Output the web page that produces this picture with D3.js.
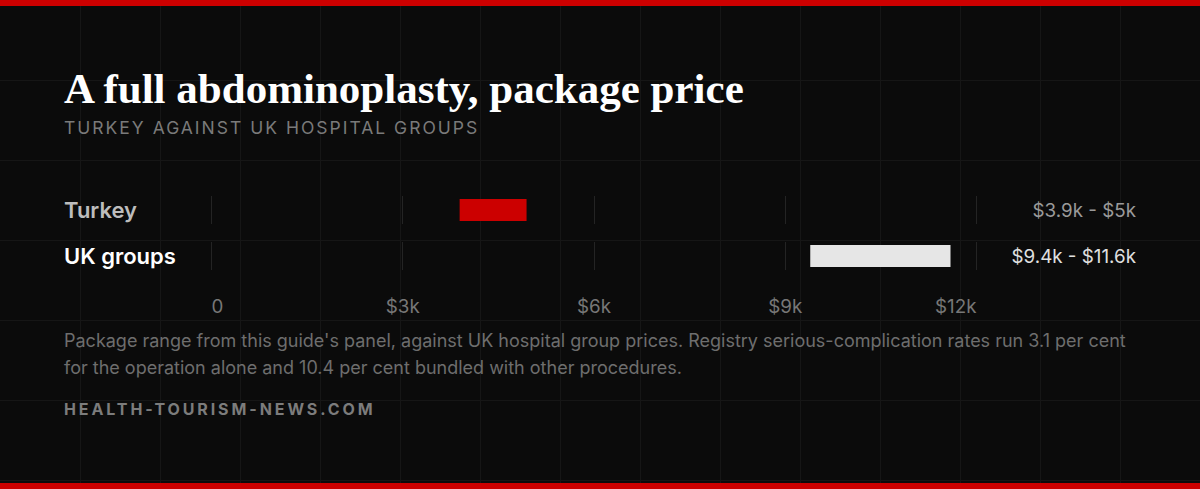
<!DOCTYPE html>
<html>
<head>
<meta charset="utf-8">
<script src="https://cdn.jsdelivr.net/npm/d3@7"></script>
<style>
	html, body { margin: 0; padding: 0; background: #0b0b0b; }
	svg { display: block; }
</style>
</head>
<body>
<div id="chart"></div>
<script>
var categories = ['Turkey', 'UK groups'];
var lowValues = [3900, 9400];
var highValues = [4950, 11600];
var rangeLabels = ['$3.9k - $5k', '$9.4k - $11.6k'];
var tickValues = [0, 3000, 6000, 9000, 12000];
var tickLabels = ['0', '$3k', '$6k', '$9k', '$12k'];

var titleText = 'A full abdominoplasty, package price';
var subtitleText = 'TURKEY AGAINST UK HOSPITAL GROUPS';
var noteLines = [
	"Package range from this guide's panel, against UK hospital group prices. Registry serious-complication rates run 3.1 per cent",
	'for the operation alone and 10.4 per cent bundled with other procedures.'
];
var sourceText = 'HEALTH-TOURISM-NEWS.COM';

var width = 1200;
var height = 489;
var sans = 'Inter, "Noto Sans", sans-serif';

var barFill = ['#cc0000', '#e6e6e6'];
var labelFill = ['#bdbdbd', '#ffffff'];
var valueFill = ['#9a9a9a', '#e0e0e0'];

var svg = d3
	.select('#chart')
	.append('svg')
	.attr('width', width)
	.attr('height', height);

svg.append('rect').attr('width', width).attr('height', height).attr('fill', '#0b0b0b');

/* faint background grid */
var grid = svg.append('g').attr('stroke', '#161616').attr('stroke-width', 1);
grid.selectAll('line.v')
	.data(d3.range(80, width, 80))
	.enter()
	.append('line')
	.attr('x1', d => d + 0.5)
	.attr('x2', d => d + 0.5)
	.attr('y1', 0)
	.attr('y2', height);
grid.selectAll('line.h')
	.data(d3.range(80, height, 80))
	.enter()
	.append('line')
	.attr('y1', d => d + 0.5)
	.attr('y2', d => d + 0.5)
	.attr('x1', 0)
	.attr('x2', width);

/* red edges */
svg.append('rect').attr('width', width).attr('height', 6).attr('fill', '#cc0000');
svg.append('rect').attr('y', height - 6).attr('width', width).attr('height', 6).attr('fill', '#cc0000');

/* titles */
svg.append('text')
	.attr('x', 64)
	.attr('y', 103)
	.attr('fill', '#ffffff')
	.style('font-family', '"Liberation Serif", "DejaVu Serif", serif')
	.style('font-weight', 700)
	.style('font-size', '43px')
	.text(titleText);

svg.append('text')
	.attr('x', 64)
	.attr('y', 134)
	.attr('fill', '#7a7a7a')
	.style('font-family', sans)
	.style('font-size', '17.5px')
	.style('letter-spacing', '2px')
	.text(subtitleText);

/* Scale */
var xScale = d3.scaleLinear().domain([0, 12000]).range([211, 976]);
var yScale = d3.scaleBand().domain(categories).range([187, 279]);

var rows = svg.selectAll('.row')
	.data(categories)
	.enter()
	.append('g')
	.attr('class', 'row')
	.attr('transform', d => `translate(0, ${yScale(d) + yScale.bandwidth() / 2})`);

/* tick segments per row */
rows.selectAll('.tick-seg')
	.data(tickValues)
	.enter()
	.append('line')
	.attr('class', 'tick-seg')
	.attr('x1', d => Math.round(xScale(d)) + 0.5)
	.attr('x2', d => Math.round(xScale(d)) + 0.5)
	.attr('y1', -14)
	.attr('y2', 14)
	.attr('stroke', '#242424')
	.attr('stroke-width', 1);

rows.append('rect')
	.attr('x', (d, i) => xScale(lowValues[i]))
	.attr('y', -11)
	.attr('width', (d, i) => xScale(highValues[i]) - xScale(lowValues[i]))
	.attr('height', 22)
	.attr('fill', (d, i) => barFill[i]);

rows.append('text')
	.attr('x', 64)
	.attr('y', 7.5)
	.attr('fill', (d, i) => labelFill[i])
	.style('font-family', sans)
	.style('font-weight', 600)
	.style('font-size', '22px')
	.text(d => d);

rows.append('text')
	.attr('x', 1136)
	.attr('y', 6.5)
	.attr('text-anchor', 'end')
	.attr('fill', (d, i) => valueFill[i])
	.style('font-family', sans)
	.style('font-size', '18.8px')
	.text((d, i) => rangeLabels[i]);

/* Axis */
var xAxis = d3.axisBottom(xScale)
	.tickValues(tickValues)
	.tickFormat((d, i) => tickLabels[i])
	.tickSize(0)
	.tickPadding(0);

var axisG = svg.append('g')
	.attr('class', 'x axis')
	.attr('transform', 'translate(0, 313)')
	.call(xAxis);

axisG.select('.domain').remove();
axisG.selectAll('text')
	.attr('dy', 0)
	.attr('y', 0)
	.attr('fill', '#777777')
	.style('font-family', sans)
	.style('font-size', '18.8px')
	.attr('text-anchor', (d, i) => i === 0 ? 'start' : i === tickValues.length - 1 ? 'end' : 'middle');

/* note */
svg.append('g')
	.selectAll('text')
	.data(noteLines)
	.enter()
	.append('text')
	.attr('x', 64)
	.attr('y', (d, i) => 347 + i * 27)
	.attr('fill', '#6e6e6e')
	.style('font-family', sans)
	.style('font-size', '18px')
	.text(d => d);

svg.append('text')
	.attr('x', 64)
	.attr('y', 415)
	.attr('fill', '#7c7c7c')
	.style('font-family', sans)
	.style('font-weight', 700)
	.style('font-size', '16px')
	.style('letter-spacing', '2.9px')
	.text(sourceText);
</script>
</body>
</html>
